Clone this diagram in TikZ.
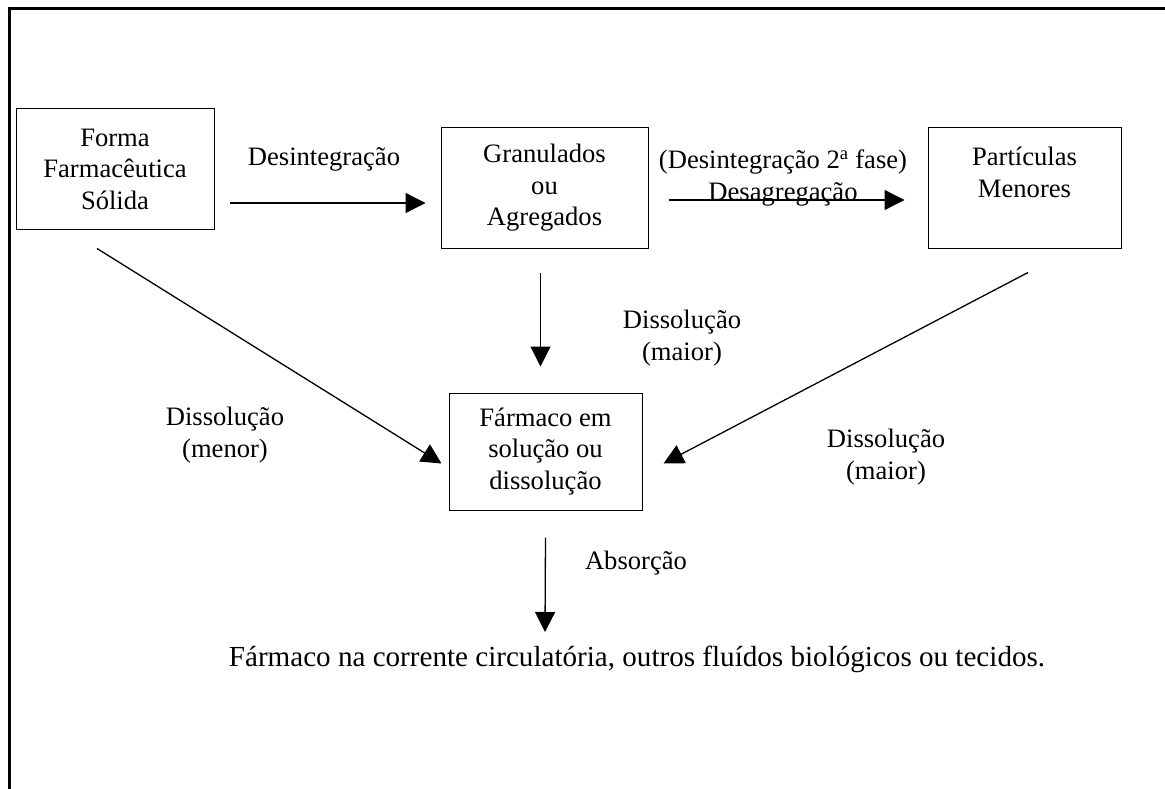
\documentclass[tikz,border=0pt]{standalone}
\usepackage{fontspec}
\setmainfont{Liberation Serif}
\usetikzlibrary{arrows.meta}

\begin{document}
\begin{tikzpicture}[x=1pt,y=-1pt,
        every node/.style={font=\fontsize{26.6}{31.5}\selectfont},
        caixa/.style={draw,line width=1pt,align=center,inner sep=0pt,minimum height=120pt},
        seta/.style={-{Triangle[length=20pt,width=20pt]},line width=1.3pt},
        rotulo/.style={align=center,inner sep=0pt}]
        \useasboundingbox (0,0) rectangle (1165,789);
        % frame
        \draw[line width=3pt] (9,789) -- (9,9) -- (1165,9);
        % boxes
        \node[caixa,minimum width=198pt] (forma) at (115,169) {Forma\\Farmacêutica\\Sólida};
        \node[caixa,minimum width=207pt] (gran) at (544.5,188) {Granulados\\ou\\Agregados};
        \node[caixa,minimum width=193pt] (part) at (1024.5,188) {Partículas\\Menores\\~};
        \node[caixa,minimum width=193pt,minimum height=117pt] (farm) at (545.5,451.5) {Fármaco em\\solução ou\\dissolução};
        \node[rotulo,anchor=base,font=\fontsize{29.1}{34}\selectfont] (sangue) at (637,666) {Fármaco na corrente circulatória, outros fluídos biológicos ou tecidos.};
        % arrows
        \draw[seta] ([shift={(15,34)}]forma.east) -- ([shift={(-15,15)}]gran.west);
        \draw[seta] ([shift={(20,12)}]gran.east) -- ([shift={(-23,12)}]part.west);
        \draw[seta] ([shift={(-4,24)}]gran.south) -- ([shift={(-5,-26)}]farm.north);
        \draw[seta] ([shift={(-18,19)}]forma.south) -- ([shift={(-7,12)}]farm.west);
        \draw[seta] ([shift={(3.5,24)}]part.south) -- ([shift={(21,12)}]farm.east);
        \draw[seta] ([shift={(0,27)}]farm.south) -- ([shift={(-92,-34)}]sangue.base);
        % labels
        \node[rotulo] (l1) at (324,159) {Desintegração};
        \node[rotulo] (l2) at (783,178) {(Desintegração 2\textsuperscript{a} fase)\\Desagregação};
        \node[rotulo] (l3) at (682,338) {Dissolução\\(maior)};
        \node[rotulo] (l4) at (225,435) {Dissolução\\(menor)};
        \node[rotulo] (l5) at (886,457) {Dissolução\\(maior)};
        \node[rotulo] (l6) at (636,563) {Absorção};
\end{tikzpicture}
\end{document}
